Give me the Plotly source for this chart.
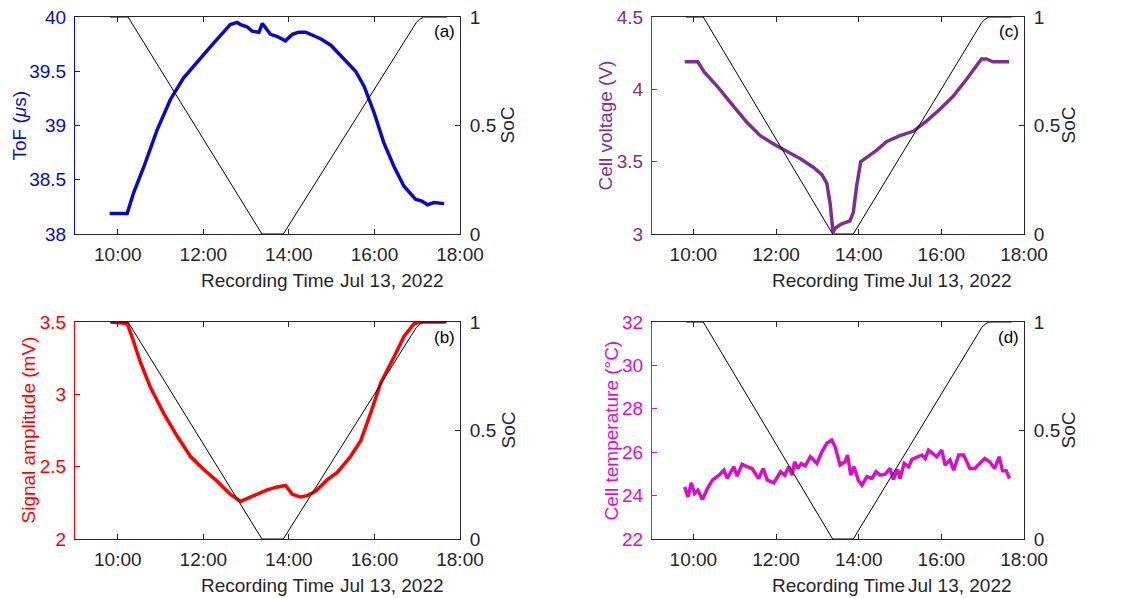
import plotly.graph_objects as go

DAY = "2022-07-13"

def t(h):
    hh = int(h)
    mm = (h - hh) * 60
    m = int(mm)
    s = int(round((mm - m) * 60))
    if s == 60:
        m += 1; s = 0
    return f"{DAY} {hh:02d}:{m:02d}:{s:02d}"

# SoC profile (hours, SoC)
soc_h = [9.82, 10.24, 13.37, 13.87, 16.98, 17.06, 17.15, 17.70]
soc_v = [1.0, 1.0, 0.0, 0.0, 0.975, 0.99, 1.0, 1.0]

# (a) Time of flight
tof_h = [9.81, 10.22, 10.37, 10.61, 10.92, 11.23, 11.54, 11.93, 12.24, 12.63, 12.79, 12.87,
         13.02, 13.14, 13.30, 13.38, 13.57, 13.73, 13.92, 14.08, 14.23, 14.39, 14.55, 14.74,
         14.98, 15.13, 15.37, 15.56, 15.76, 15.99, 16.22, 16.46, 16.69, 16.96, 17.12, 17.24,
         17.39, 17.63]
tof_v = [38.19, 38.19, 38.38, 38.62, 38.96, 39.24, 39.44, 39.62, 39.76, 39.93, 39.95, 39.93,
         39.91, 39.87, 39.86, 39.94, 39.84, 39.82, 39.78, 39.84, 39.86, 39.86, 39.83, 39.80,
         39.74, 39.68, 39.58, 39.50, 39.36, 39.12, 38.84, 38.62, 38.44, 38.32, 38.30, 38.27,
         38.29, 38.28]

# (b) Signal amplitude
amp_h = [9.83, 10.22, 10.33, 10.53, 10.76, 11.07, 11.39, 11.70, 12.01, 12.32, 12.63, 12.87,
         12.95, 13.18, 13.49, 13.73, 13.92, 14.08, 14.27, 14.43, 14.62, 14.90, 15.13, 15.44,
         15.68, 15.91, 16.15, 16.46, 16.69, 16.93, 17.08, 17.67]
amp_v = [3.50, 3.49, 3.40, 3.22, 3.05, 2.87, 2.71, 2.57, 2.48, 2.40, 2.31, 2.26,
         2.27, 2.30, 2.34, 2.36, 2.37, 2.31, 2.29, 2.30, 2.33, 2.41, 2.46, 2.57,
         2.68, 2.87, 3.08, 3.26, 3.40, 3.49, 3.50, 3.50]

# (c) Cell voltage
volt_h = [9.79, 10.11, 10.26, 10.58, 10.98, 11.30, 11.62, 11.95, 12.27, 12.59, 12.91, 13.11,
          13.23, 13.31, 13.38, 13.43, 13.59, 13.79, 13.87, 13.95, 14.05, 14.20, 14.44, 14.68,
          15.00, 15.32, 15.64, 15.96, 16.28, 16.61, 16.97, 17.09, 17.25, 17.64]
volt_v = [4.19, 4.19, 4.12, 4.02, 3.88, 3.77, 3.68, 3.62, 3.57, 3.52, 3.46, 3.41,
          3.35, 3.21, 3.01, 3.04, 3.07, 3.09, 3.15, 3.33, 3.50, 3.53, 3.58, 3.64,
          3.68, 3.71, 3.78, 3.86, 3.95, 4.07, 4.21, 4.21, 4.19, 4.19]

# (d) Cell temperature
temp_h = [9.79, 9.87, 9.95, 10.03, 10.11, 10.22, 10.34, 10.46, 10.62, 10.74, 10.82, 10.98,
          11.06, 11.18, 11.30, 11.42, 11.58, 11.69, 11.79, 11.95, 12.11, 12.21, 12.31, 12.39,
          12.45, 12.53, 12.61, 12.71, 12.83, 12.99, 13.11, 13.23, 13.35, 13.43, 13.55, 13.67,
          13.73, 13.81, 13.89, 13.99, 14.08, 14.20, 14.32, 14.42, 14.52, 14.64, 14.76, 14.84,
          14.94, 15.00, 15.10, 15.21, 15.29, 15.41, 15.53, 15.61, 15.69, 15.81, 15.89, 16.01,
          16.09, 16.21, 16.30, 16.42, 16.54, 16.69, 16.81, 16.93, 17.05, 17.17, 17.29, 17.40,
          17.48, 17.57, 17.65]
temp_v = [24.40, 23.94, 24.59, 24.10, 24.25, 23.82, 24.33, 24.71, 24.94, 25.17, 24.79, 25.33,
          24.90, 25.45, 25.33, 25.25, 24.79, 25.25, 24.71, 24.59, 25.10, 24.94, 25.33, 24.94,
          25.56, 25.25, 25.48, 25.37, 25.79, 25.48, 26.02, 26.41, 26.56, 26.25, 25.41, 25.56,
          25.87, 24.94, 25.33, 24.71, 24.48, 24.87, 24.79, 25.10, 24.94, 24.99, 25.25, 24.74,
          25.21, 24.79, 25.48, 25.33, 25.67, 25.79, 25.87, 25.71, 26.10, 25.91, 25.79, 26.10,
          25.41, 25.64, 25.17, 25.87, 25.87, 25.25, 25.25, 25.48, 25.71, 25.56, 25.25, 25.79,
          25.14, 25.14, 24.79]

x_tick_hours = [10, 12, 14, 16, 18]
x_tick_labels = ["10:00", "12:00", "14:00", "16:00", "18:00"]
soc_ticks = [0, 0.5, 1]
soc_tick_labels = ["0", "0.5", "1"]

W, H = 1137, 598
FONT = "Liberation Sans, Arial, Helvetica, sans-serif"
AX = "#262626"
FS = 19

# panel pixel boxes: left, right, top, bottom
panels = [
    dict(key="a", box=(75, 460, 17, 234), h=tof_h, v=tof_v, color="#0A0AC4", rng=[38, 40],
         ticks=[38, 38.5, 39, 39.5, 40], ticktext=["38", "38.5", "39", "39.5", "40"],
         title="ToF (<i>μ</i>s)", ltitle_x=19, rtitle_x=507, date_x=339),
    dict(key="b", box=(75, 460, 322, 539), h=amp_h, v=amp_v, color="#FF0000", rng=[2, 3.5],
         ticks=[2, 2.5, 3, 3.5], ticktext=["2", "2.5", "3", "3.5"],
         title="Signal amplitude (mV)", ltitle_x=28, rtitle_x=508, date_x=339),
    dict(key="c", box=(652, 1024, 17, 234), h=volt_h, v=volt_v, color="#7E2F8E", rng=[3, 4.5],
         ticks=[3, 3.5, 4, 4.5], ticktext=["3", "3.5", "4", "4.5"],
         title="Cell voltage (V)", ltitle_x=605, rtitle_x=1068, date_x=907),
    dict(key="d", box=(652, 1024, 322, 539), h=temp_h, v=temp_v, color="#D90FC8", rng=[22, 32],
         ticks=[22, 24, 26, 28, 30, 32], ticktext=["22", "24", "26", "28", "30", "32"],
         title="Cell temperature (°C)", ltitle_x=611, rtitle_x=1068, date_x=907),
]

fig = go.Figure()
layout = dict(
    width=W, height=H, autosize=False, margin=dict(l=0, r=0, t=0, b=0, pad=0, autoexpand=False),
    paper_bgcolor="white", plot_bgcolor="rgba(0,0,0,0)",
    showlegend=False, font=dict(family=FONT, size=FS, color=AX),
)
annotations = []

for i, p in enumerate(panels):
    xn = i + 1
    yl = 2 * i + 1
    yr = 2 * i + 2
    xname = "xaxis" if xn == 1 else f"xaxis{xn}"
    xref = "x" if xn == 1 else f"x{xn}"
    ylname = "yaxis" if yl == 1 else f"yaxis{yl}"
    ylref = "y" if yl == 1 else f"y{yl}"
    yrname = f"yaxis{yr}"
    yrref = f"y{yr}"
    l, r, tp, bt = p["box"]
    xd = [l / W, r / W]
    yd = [1 - bt / H, 1 - tp / H]

    layout[xname] = dict(
        domain=xd, anchor=ylref, type="date", automargin=False,
        range=[t(9), t(18)],
        tickmode="array", tickvals=[t(h) for h in x_tick_hours], ticktext=x_tick_labels,
        ticks="inside", ticklen=5, tickwidth=1, tickcolor=AX,
        showline=True, linecolor=AX, linewidth=1, mirror="ticks",
        showgrid=False, zeroline=False,
        tickfont=dict(size=FS, color=AX), ticklabelstandoff=3,
    )
    layout[ylname] = dict(
        domain=yd, anchor=xref, range=p["rng"], automargin=False,
        tickmode="array", tickvals=p["ticks"], ticktext=p["ticktext"],
        ticks="inside", ticklen=5, tickwidth=1, tickcolor=p["color"],
        showline=True, linecolor=p["color"], linewidth=1,
        showgrid=False, zeroline=False,
        tickfont=dict(size=FS, color=p["color"]), ticklabelstandoff=4,
    )
    layout[yrname] = dict(
        domain=yd, anchor=xref, overlaying=ylref, side="right", range=[0, 1], automargin=False,
        tickmode="array", tickvals=soc_ticks, ticktext=soc_tick_labels,
        ticks="inside", ticklen=5, tickwidth=1, tickcolor=AX,
        showline=True, linecolor=AX, linewidth=1,
        showgrid=False, zeroline=False,
        tickfont=dict(size=FS, color=AX), ticklabelstandoff=5,
    )

    fig.add_trace(go.Scatter(
        x=[t(h) for h in p["h"]], y=p["v"], mode="lines",
        line=dict(color=p["color"], width=3.5), xaxis=xref, yaxis=ylref,
    ))
    fig.add_trace(go.Scatter(
        x=[t(h) for h in soc_h], y=soc_v, mode="lines",
        line=dict(color="black", width=1), xaxis=xref, yaxis=yrref,
    ))

    ymid = 1 - (tp + bt) / 2 / H
    annotations.append(dict(
        text=p["title"], xref="paper", yref="paper",
        x=p["ltitle_x"] / W, y=ymid, textangle=-90,
        showarrow=False, xanchor="center", yanchor="middle",
        font=dict(size=FS, color=p["color"], family=FONT),
    ))
    annotations.append(dict(
        text="SoC", xref="paper", yref="paper",
        x=p["rtitle_x"] / W, y=ymid, textangle=-90,
        showarrow=False, xanchor="center", yanchor="middle",
        font=dict(size=FS, color=AX, family=FONT),
    ))
    annotations.append(dict(
        text="Recording Time", xref="paper", yref="paper",
        x=(l + r) / 2 / W, y=1 - (bt + 46) / H,
        showarrow=False, xanchor="center", yanchor="middle",
        font=dict(size=FS, color=AX, family=FONT),
    ))
    annotations.append(dict(
        text="Jul 13, 2022", xref="paper", yref="paper",
        x=p["date_x"] / W, y=1 - (bt + 46) / H,
        showarrow=False, xanchor="left", yanchor="middle", borderpad=0,
        font=dict(size=FS, color=AX, family=FONT),
    ))
    annotations.append(dict(
        text=f"({p['key']})", xref="paper", yref="paper",
        x=(r - 3) / W, y=1 - (tp + 15) / H,
        showarrow=False, xanchor="right", yanchor="middle",
        font=dict(size=17, color="black", family=FONT),
    ))

layout["annotations"] = annotations
fig.update_layout(**layout)
fig.write_html("out.html", post_script="document.body.style.margin='0';")
